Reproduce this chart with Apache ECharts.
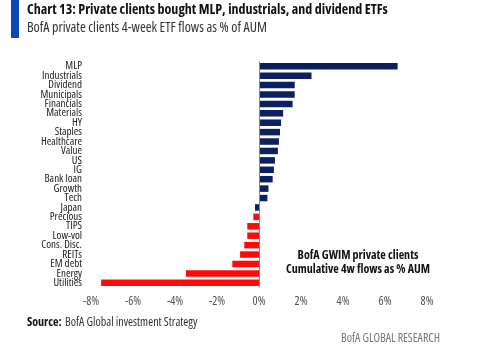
<!DOCTYPE html>
<html><head><meta charset="utf-8">
<script src="https://cdn.jsdelivr.net/npm/echarts@6/dist/echarts.min.js"></script>
<style>html,body{margin:0;padding:0;background:#fff}#c{width:491px;height:358px}</style>
</head><body><div id="c"></div>
<script>
const categories = ["MLP","Industrials","Dividend","Municipals","Financials","Materials","HY","Staples","Healthcare","Value","US","IG","Bank loan","Growth","Tech","Japan","Precious","TIPS","Low-vol","Cons. Disc.","REITs","EM debt","Energy","Utilities"];
const flows = [6.6,2.5,1.7,1.7,1.6,1.15,1.05,1.0,0.95,0.9,0.76,0.71,0.65,0.45,0.4,-0.19,-0.27,-0.56,-0.56,-0.7,-0.9,-1.27,-3.48,-7.52];
const navySet = ["Japan"];
const xTicks = [-8,-6,-4,-2,0,2,4,6,8];

const FAM = "'Open Sans',sans-serif";
const chart = echarts.init(document.getElementById('c'));
chart.setOption({
  animation:false,
  grid:{left:91,right:64,top:61.5,bottom:70.5},
  xAxis:{type:'value',min:xTicks[0],max:xTicks[xTicks.length-1],interval:2,
    axisLine:{show:false},axisTick:{show:false},splitLine:{show:false},
    axisLabel:{formatter:v=>v+'%',color:'#555',fontSize:12,fontStyle:'condensed',fontFamily:FAM,margin:8}},
  yAxis:{type:'category',data:categories,inverse:true,
    axisLine:{show:false},axisTick:{show:false},
    axisLabel:{interval:0,color:'#222',fontSize:11,fontStyle:'condensed',fontFamily:FAM,margin:9,lineHeight:10}},
  series:[{type:'bar',barWidth:6.5,
    data:flows.map((v,i)=>({value:v,itemStyle:{color:(v>=0||navySet.includes(categories[i]))?'#0c1f5e':'#ff0a0a'}})),
    markLine:{silent:true,symbol:'none',label:{show:false},lineStyle:{color:'#888',width:1,type:'solid'},data:[{xAxis:0}]}
  }],
  graphic:[
    {type:'rect',shape:{x:11,y:0,width:8,height:38},style:{fill:'#0a48b4'}},
    {type:'text',left:27,top:3,style:{text:'Chart 13: Private clients bought MLP, industrials, and dividend ETFs',font:"condensed bold 14px "+FAM,fill:'#111'}},
    {type:'text',left:27,top:21,style:{text:'BofA private clients 4-week ETF flows as % of AUM',font:"condensed 14px "+FAM,fill:'#333'}},
    {type:'text',x:358,y:263,style:{text:'BofA GWIM private clients\nCumulative 4w flows as % AUM',font:"condensed bold 12px "+FAM,fill:'#111',align:'center',verticalAlign:'middle',lineHeight:14}},
    {type:'text',left:27,top:317,style:{rich:{b:{font:"condensed bold 12px "+FAM,fill:'#111'},n:{font:"condensed 12px "+FAM,fill:'#333'}},text:'{b|Source:} {n|BofA Global investment Strategy}'}},
    {type:'text',x:440,y:339,style:{text:'BofA GLOBAL RESEARCH',font:"condensed 12px "+FAM,fill:'#777',align:'right',verticalAlign:'middle'}}
  ]
});
</script></body></html>
